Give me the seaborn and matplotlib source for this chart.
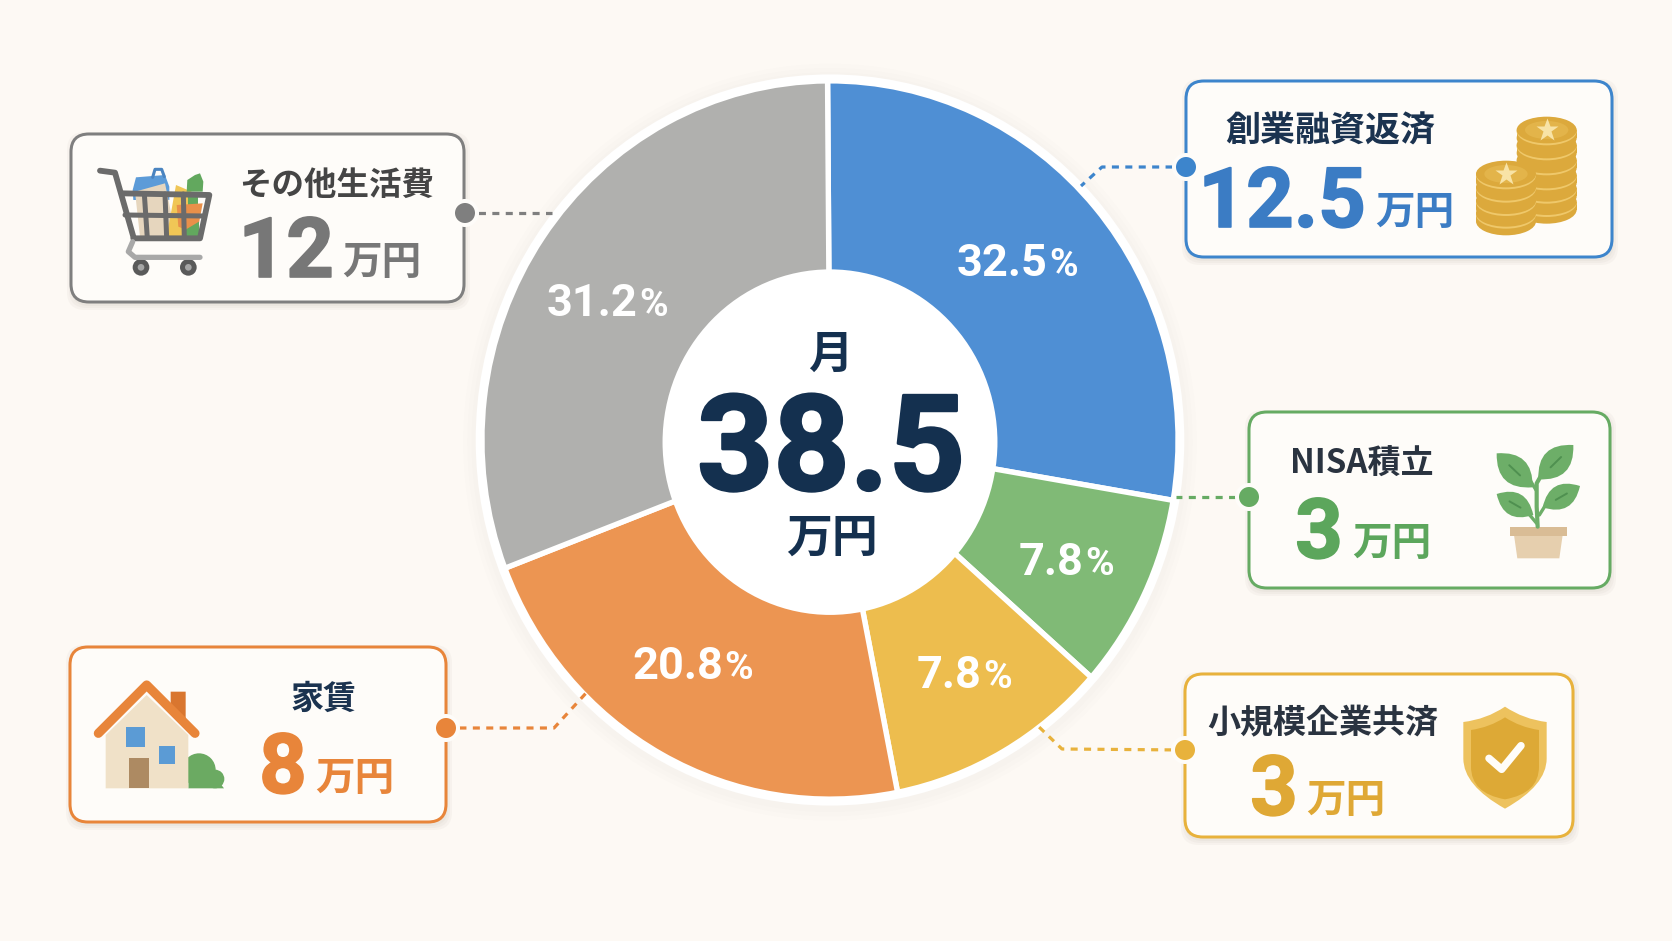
import matplotlib
matplotlib.use("Agg")
import matplotlib.pyplot as plt
import matplotlib.patheffects as pe
import seaborn as sns
from matplotlib.patches import Circle, Ellipse, FancyBboxPatch, PathPatch, Polygon, Rectangle
from matplotlib.path import Path

# share of the ring each wedge really covers in the picture (the printed % differ)
wedge_shares = [27.8, 8.8, 10.4, 22.3, 30.7]
wedge_labels = ["32.5", "7.8", "7.8", "20.8", "31.2"]
wedge_colors = ["#4F8FD4", "#80BA76", "#EDBD4E", "#EC9552", "#B0B0AE"]

card_titles = ["創業融資返済", "NISA積立", "小規模企業共済", "家賃", "その他生活費"]
card_amounts = ["12.5", "3", "3", "8", "12"]
card_colors = ["#3D85CC", "#66AB63", "#E8B23C", "#E8853A", "#7F7F7F"]
number_colors = ["#3B7CC4", "#5CA65C", "#DFA835", "#E8853A", "#777777"]
title_colors = ["#1B3350", "#2A3340", "#2A3340", "#1B3350", "#454545"]

center_top = "月"
center_value = "38.5"
unit = "万円"

W, H = 1672, 941
BG = "#FDF9F4"
NAVY = "#14304F"
NUM_FONT = ["Roboto", "Noto Sans", "DejaVu Sans"]
JP_FONT = ["Noto Sans CJK JP", "DejaVu Sans"]
PX = 72 / 100  # one pixel in points

# layout per card: box, connector, title centre, number right edge + baseline, unit left edge + baseline
boxes = [(1186, 81, 1612, 257), (1249, 412, 1610, 588), (1185, 674, 1573, 837),
         (70, 647, 446, 822), (71, 134, 464, 302)]
connectors = [[(1186, 167), (1102, 167), (1081, 186)],
              [(1249, 497), (1176, 497)],
              [(1185, 750), (1062, 749), (1038, 726)],
              [(446, 728), (554, 728), (587, 692)],
              [(465, 213), (552, 213)]]
title_pos = [(1330, 131), (1362, 464), (1323, 724), (323, 699), (337, 185)]
title_sizes = [25.2, 23.8, 23.8, 23.8, 23.4]
number_pos = [(1366, 227), (1343, 558), (1298, 815), (307, 793), (334, 277)]
unit_pos = [(1375, 224), (1352, 555), (1306, 812), (315, 790), (342, 274)]
label_pos = [(1048, 276), (1084, 575), (982, 688), (723, 679), (638, 316)]

sns.set_theme(style="white")
plt.rcParams["font.family"] = JP_FONT

fig = plt.figure(figsize=(W / 100, H / 100), dpi=100, facecolor=BG)

# pie sits in its own axes, stretched a bit taller than wide like the reference
cx, cy, rx, ry = 830, 440, 346, 357
rim = 1.024
pie_ax = fig.add_axes([(cx - rx * 1.1) / W, 1 - (cy + ry * 1.1) / H, rx * 2.2 / W, ry * 2.2 / H], zorder=0)
pie_ax.patch.set_visible(False)
for i in range(3):
    pie_ax.add_patch(Circle((0, -0.006), rim + 0.012 * (3 - i), color="#B8B0A5", alpha=0.022, lw=0))
pie_ax.add_patch(Circle((0, 0), rim, color="white", lw=0))
pie_ax.pie(wedge_shares, colors=sns.color_palette(wedge_colors), startangle=90.4, counterclock=False,
           radius=1.006, wedgeprops={"edgecolor": "white", "linewidth": 5.4 * PX})
pie_ax.add_patch(Circle((0, -0.006), 0.484, color="white", lw=0, zorder=5))
pie_ax.set_aspect("auto")
pie_ax.set_xlim(-1.1, 1.1)
pie_ax.set_ylim(-1.1, 1.1)
pie_ax.axis("off")

# everything else is drawn in image pixels on a clear overlay
ax = fig.add_axes([0, 0, 1, 1], zorder=1)
ax.patch.set_visible(False)
ax.set_xlim(0, W)
ax.set_ylim(H, 0)
ax.axis("off")


def rbox(x0, y0, x1, y1, r, **kw):
    return FancyBboxPatch((x0 + r, y0 + r), x1 - x0 - 2 * r, y1 - y0 - 2 * r,
                          boxstyle=f"round,pad={r},rounding_size={r}", **kw)


def draw_card(box, color):
    x0, y0, x1, y1 = box
    for grow in (5, 3, 1):
        ax.add_patch(rbox(x0 - grow + 1, y0 - grow + 3, x1 + grow + 1, y1 + grow + 3, 18,
                          fc="#8A8070", ec="none", alpha=0.05))
    ax.add_patch(rbox(x0, y0, x1, y1, 18, fc="#FEFCF9", ec=color, lw=3 * PX))


def draw_connector(points, color):
    xs, ys = zip(*points)
    ax.plot(xs, ys, color=color, lw=2.3, dashes=(2.2, 2.0), dash_capstyle="butt", zorder=3)
    ax.add_patch(Circle(points[0], 14, fc="#FEFCF9", ec="none", zorder=4))
    ax.add_patch(Circle(points[0], 10, fc=color, ec="none", zorder=5))


def heavy(width, color):
    # Roboto Bold is a little lighter than the digits in the reference
    return [pe.withStroke(linewidth=width, foreground=color)]


def poly(ox, oy, pts, **kw):
    p = Polygon([(ox + x / 3, oy + y / 3) for x, y in pts], closed=True, lw=kw.pop("lw", 0), **kw)
    ax.add_patch(p)


def stroke(ox, oy, pts, color, lw, cap="round"):
    ax.plot([ox + x / 3 for x, y in pts], [oy + y / 3 for x, y in pts], color=color, lw=lw,
            solid_capstyle=cap, solid_joinstyle="round")


def blob(ox, oy, x, y, r, color):
    ax.add_patch(Circle((ox + x / 3, oy + y / 3), r / 3, fc=color, ec="none"))


def curve(ox, oy, verts, codes, color):
    verts = [(ox + x / 3, oy + y / 3) for x, y in verts]
    ax.add_patch(PathPatch(Path(verts, codes), fc=color, ec="none"))


def draw_cart(ox=50, oy=120):
    dark = "#6B6B6B"
    poly(ox, oy, [(248, 210), (258, 172), (345, 165), (358, 200), (358, 240), (250, 240)], fc="#5C9BD8")
    stroke(ox, oy, [(308, 172), (315, 148), (335, 148), (343, 170)], "#4A84C0", 2.2)
    poly(ox, oy, [(255, 215), (345, 190), (378, 350), (270, 350)], fc="#E6D6BE")
    poly(ox, oy, [(350, 350), (378, 195), (425, 215), (420, 350)], fc="#F0C656")
    poly(ox, oy, [(410, 215), (412, 180), (435, 165), (450, 160), (460, 185), (458, 215)], fc="#62A85E")
    poly(ox, oy, [(415, 215), (445, 215), (445, 255), (415, 255)], fc="#62A85E")
    poly(ox, oy, [(380, 255), (458, 250), (445, 320), (410, 330), (385, 320)], fc="#E8904A")
    poly(ox, oy, [(405, 330), (447, 305), (447, 350), (405, 350)], fc="#62A85E")
    stroke(ox, oy, [(150, 152), (195, 158), (250, 350)], dark, 4.2)
    stroke(ox, oy, [(215, 220), (478, 225), (450, 355), (250, 355)], dark, 4.2)
    stroke(ox, oy, [(225, 285), (462, 288)], dark, 3.6)
    for x0, x1 in [(283, 292), (345, 350), (400, 403)]:
        stroke(ox, oy, [(x0, 222), (x1, 355)], dark, 3.6)
    stroke(ox, oy, [(248, 365), (235, 395), (255, 412), (450, 412)], "#A8A8A8", 3.8)
    for x in (273, 415):
        blob(ox, oy, x, 442, 25, "#5A5A5A")
        blob(ox, oy, x, 442, 10, "#A6A6A6")


def coin_stack(ox, oy, x, ys):
    gold, light, face = "#DCA93C", "#EFC86A", "#E3B44A"
    for y in reversed(ys):
        ax.add_patch(Ellipse((ox + x / 3, oy + (y + 24) / 3), 180 / 3, 84 / 3, fc=gold, ec="none"))
        ax.add_patch(Rectangle((ox + (x - 90) / 3, oy + y / 3), 180 / 3, 24 / 3, fc=gold, ec="none"))
        ax.add_patch(Ellipse((ox + x / 3, oy + (y + 4) / 3), 180 / 3, 84 / 3, fc=light, ec="none"))
        ax.add_patch(Ellipse((ox + x / 3, oy + y / 3), 180 / 3, 80 / 3, fc=gold, ec="none"))
    ax.add_patch(Ellipse((ox + x / 3, oy + ys[0] / 3), 130 / 3, 54 / 3, fc=face, ec="none"))
    ax.plot(ox + x / 3, oy + ys[0] / 3, marker="*", ms=17, color="#F8E3A6", mec="none")


def draw_coins(ox=1170, oy=70):
    coin_stack(ox, oy, 1130, [180, 225, 270, 315, 355, 395])
    coin_stack(ox, oy, 1008, [312, 352, 392, 430])


def draw_house(ox=50, oy=630):
    green = "#6BAA62"
    blob(ox, oy, 447, 420, 50, green)
    blob(ox, oy, 495, 447, 28, green)
    poly(ox, oy, [(415, 430), (495, 440), (522, 475), (415, 475)], fc=green)
    poly(ox, oy, [(362, 185), (407, 185), (407, 270), (362, 240)], fc="#D9762F")
    poly(ox, oy, [(167, 315), (290, 195), (415, 315), (415, 475), (167, 475)], fc="#F0E1C8")
    stroke(ox, oy, [(145, 310), (290, 165), (435, 310)], "#E8853A", 6.6)
    poly(ox, oy, [(227, 292), (284, 292), (284, 350), (227, 350)], fc="#5B9BD5")
    poly(ox, oy, [(327, 347), (375, 347), (375, 403), (327, 403)], fc="#5B9BD5")
    poly(ox, oy, [(238, 383), (296, 383), (296, 475), (238, 475)], fc="#AD8A62")


def leaf(ox, oy, base, tip, bend):
    mx, my = (base[0] + tip[0]) / 2, (base[1] + tip[1]) / 2
    nx, ny = -(tip[1] - base[1]), tip[0] - base[0]
    c1 = (mx + nx * bend, my + ny * bend)
    c2 = (mx - nx * bend, my - ny * bend)
    codes = [Path.MOVETO, Path.CURVE3, Path.CURVE3, Path.CURVE3, Path.CURVE3]
    curve(ox, oy, [base, c1, tip, c2, base], codes, "#6DAE68")
    stroke(ox, oy, [(mx * 0.7 + base[0] * 0.3, my * 0.7 + base[1] * 0.3), (mx * 0.7 + tip[0] * 0.3, my * 0.7 + tip[1] * 0.3)],
           "#4F9050", 1.4)


def draw_plant(ox=1170, oy=400):
    stroke(ox, oy, [(1103, 380), (1100, 320), (1100, 250), (1120, 215)], "#6DAE68", 3.0)
    stroke(ox, oy, [(1100, 370), (1075, 340), (1040, 315)], "#6DAE68", 2.4)
    stroke(ox, oy, [(1108, 345), (1130, 310), (1170, 285)], "#6DAE68", 2.4)
    stroke(ox, oy, [(1098, 270), (1080, 240), (1040, 205)], "#6DAE68", 2.4)
    leaf(ox, oy, (1088, 262), (980, 160), 0.55)
    leaf(ox, oy, (1105, 238), (1210, 135), 0.55)
    leaf(ox, oy, (1090, 345), (980, 282), 0.55)
    leaf(ox, oy, (1118, 322), (1230, 258), 0.55)
    poly(ox, oy, [(1032, 405), (1178, 405), (1168, 475), (1042, 475)], fc="#E6CFAE")
    poly(ox, oy, [(1020, 380), (1190, 380), (1190, 407), (1020, 407)], fc="#D9BC95")


def draw_shield(ox=1170, oy=400):
    def shape(t, s, b, hw, color):
        v = [(1005, t), (1005 - hw * 0.45, s - 8), (1005 - hw, s), (1005 - hw, s + 110),
             (1005 - hw, s + 190), (1005, b), (1005 + hw, s + 190), (1005 + hw, s + 110),
             (1005 + hw, s), (1005 + hw * 0.45, s - 8), (1005, t)]
        c = [Path.MOVETO, Path.CURVE3, Path.CURVE3, Path.LINETO, Path.CURVE3, Path.CURVE3,
             Path.CURVE3, Path.CURVE3, Path.LINETO, Path.CURVE3, Path.CURVE3]
        curve(ox, oy, v, c, color)
    shape(920, 966, 1226, 125, "#EDC25E")
    shape(952, 990, 1198, 102, "#DDA936")
    stroke(ox, oy, [(957, 1075), (995, 1108), (1053, 1037)], "#FFFDF8", 5.4)


for i in range(5):
    draw_card(boxes[i], card_colors[i])
    draw_connector(connectors[i], card_colors[i])
    ax.text(*title_pos[i], card_titles[i], ha="center", va="center", fontsize=title_sizes[i], color=title_colors[i],
            fontweight="bold", family=JP_FONT)
    ax.text(*number_pos[i], card_amounts[i], ha="right", va="baseline", fontsize=60, color=number_colors[i],
            fontweight="bold", family=NUM_FONT, path_effects=heavy(1.2, number_colors[i]))
    ax.text(*unit_pos[i], unit, ha="left", va="baseline", fontsize=28.5, color=number_colors[i],
            fontweight="bold", family=JP_FONT)
    ax.text(*label_pos[i], wedge_labels[i], ha="right", va="baseline", fontsize=32.5, color="white",
            fontweight="bold", family=NUM_FONT)
    ax.text(label_pos[i][0] + 1, label_pos[i][1], "%", ha="left", va="baseline", fontsize=28, color="white",
            fontweight="bold", family=NUM_FONT)

draw_coins()
draw_plant()
draw_shield()
draw_house()
draw_cart()

ax.text(830, 355, center_top, ha="center", va="center", fontsize=32, color=NAVY, fontweight="bold", family=JP_FONT)
ax.text(831, 490, center_value, ha="center", va="baseline", fontsize=96, color=NAVY, fontweight="bold",
        family=NUM_FONT, path_effects=heavy(2.0, NAVY))
ax.text(832, 539, unit, ha="center", va="center", fontsize=33, color=NAVY, fontweight="bold", family=JP_FONT)

fig.savefig("out.png", dpi=100, facecolor=BG)
